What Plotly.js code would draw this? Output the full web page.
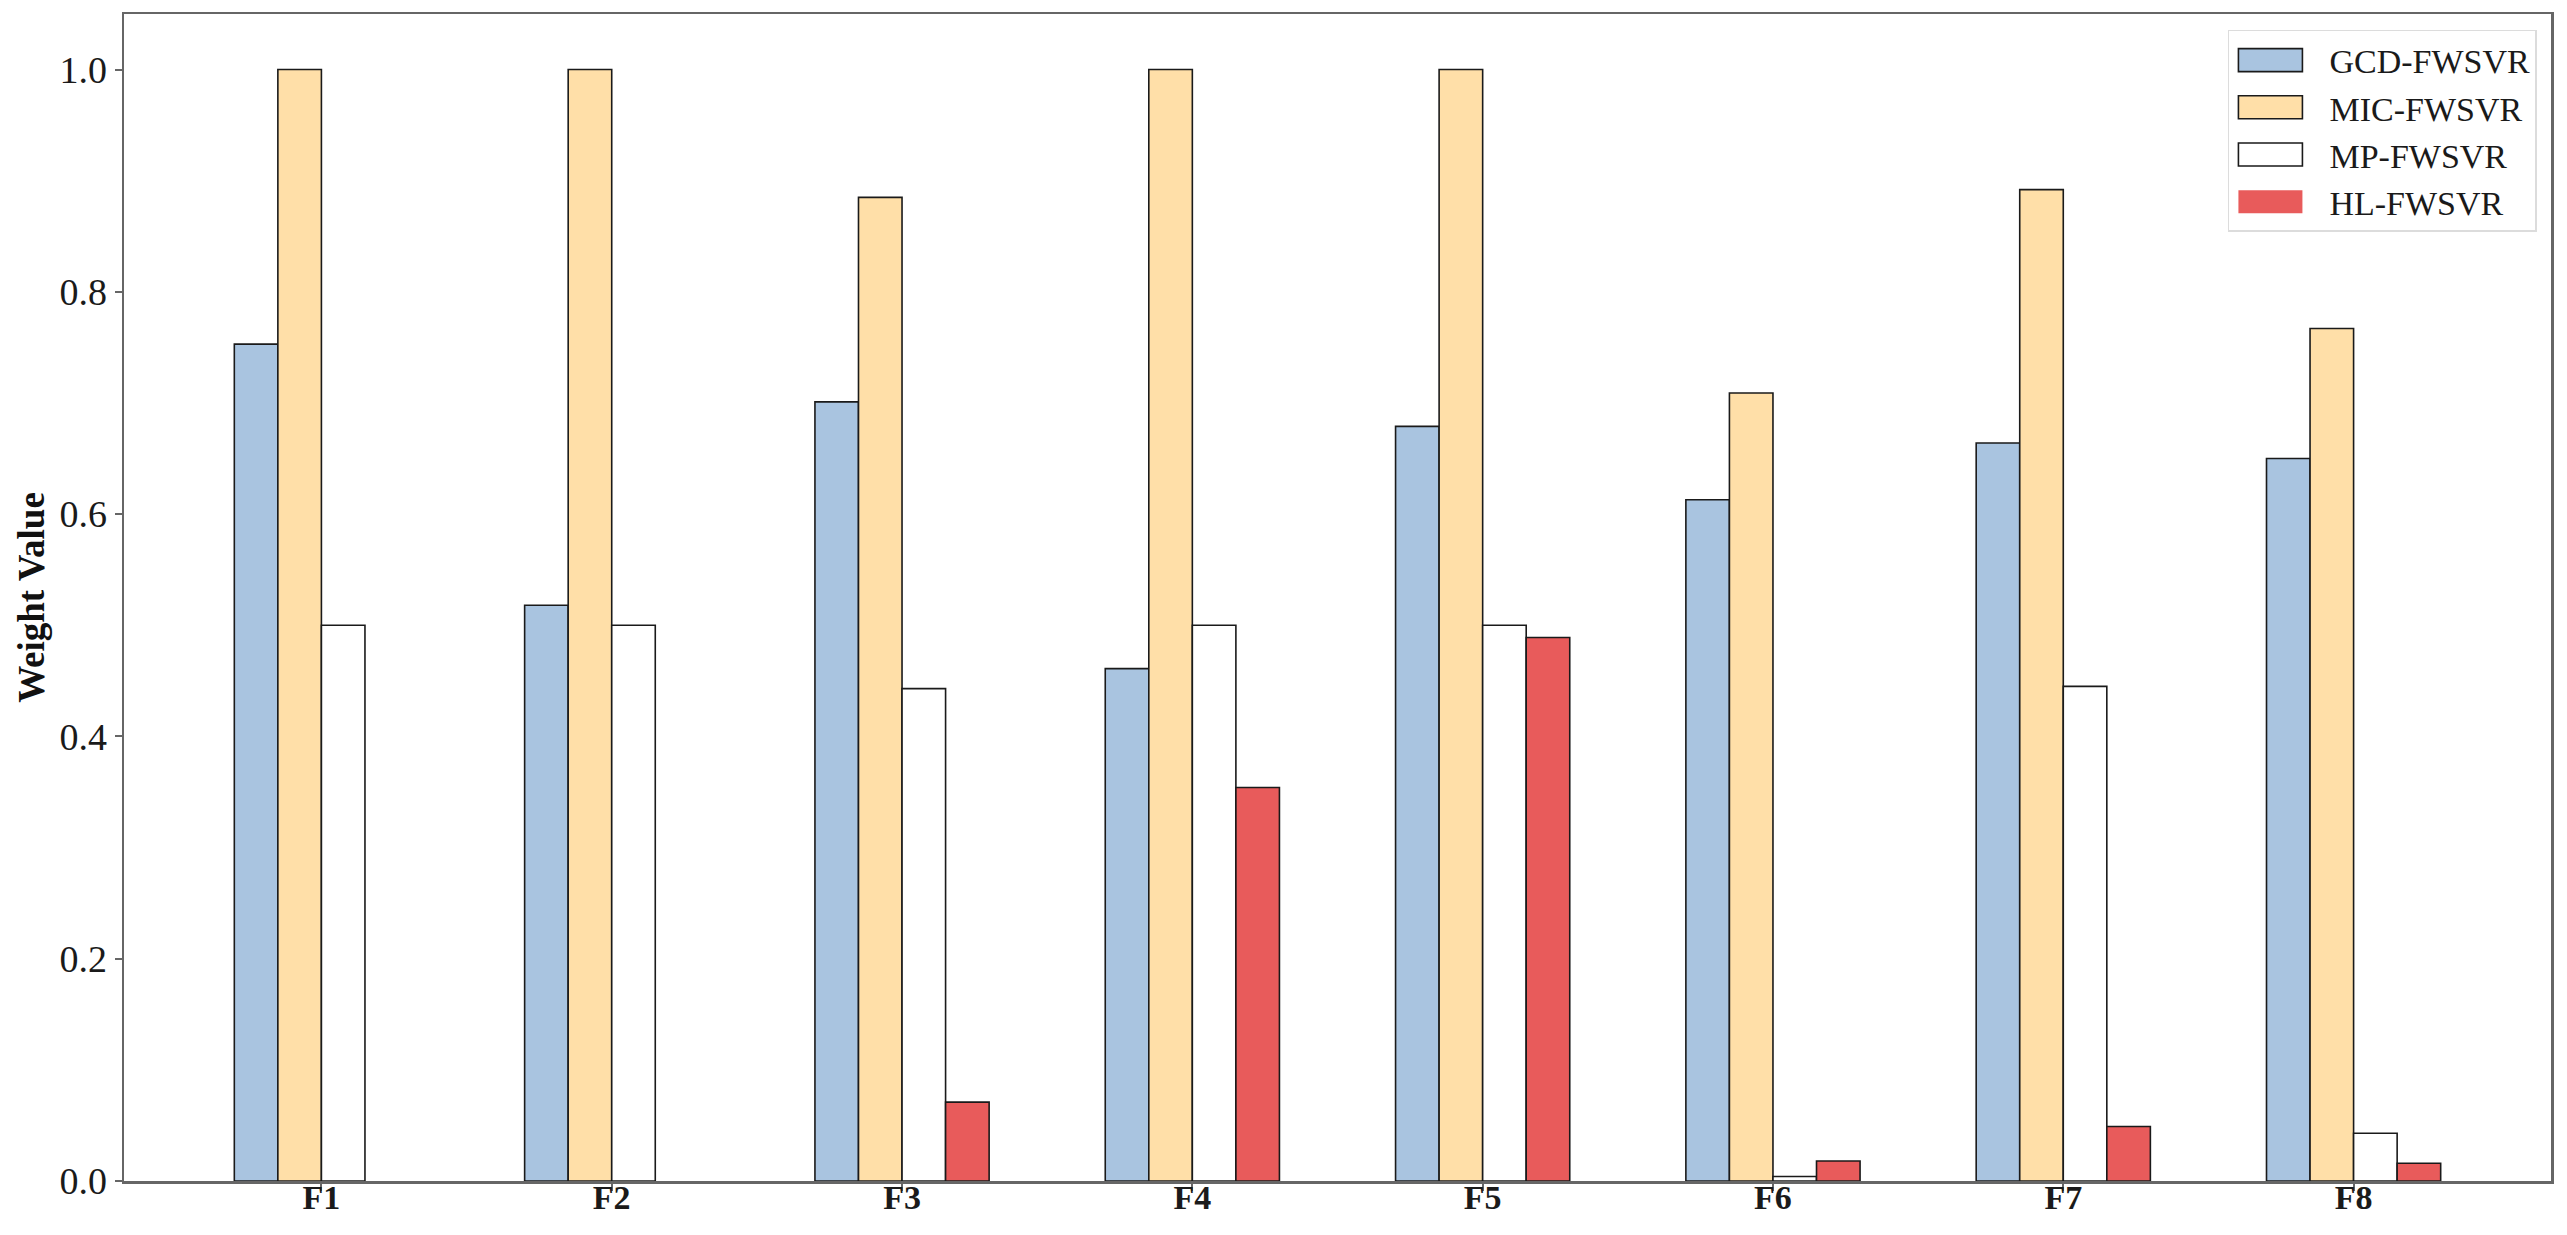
<!DOCTYPE html>
<html>
<head>
<meta charset="utf-8">
<script src="https://cdn.plot.ly/plotly-3.0.1.min.js"></script>
<style>html,body{margin:0;padding:0;background:#fff;}#chart{width:2567px;height:1235px;}</style>
</head>
<body>
<div id="chart"></div>
<script>
const categories = ['F1', 'F2', 'F3', 'F4', 'F5', 'F6', 'F7', 'F8'];
const seriesNames = ['GCD-FWSVR', 'MIC-FWSVR', 'MP-FWSVR', 'HL-FWSVR'];
const gcdValues = [0.753, 0.518, 0.701, 0.461, 0.679, 0.613, 0.664, 0.650];
const micValues = [1.000, 1.000, 0.885, 1.000, 1.000, 0.709, 0.892, 0.767];
const mpValues  = [0.500, 0.500, 0.443, 0.500, 0.500, 0.004, 0.445, 0.043];
const hlValues  = [0.000, 0.000, 0.071, 0.354, 0.489, 0.018, 0.049, 0.016];
const yTickValues = [0.0, 0.2, 0.4, 0.6, 0.8, 1.0];

const fills = ['#A9C4E0', '#FFDFA8', '#FFFFFF', '#E85B5B'];
const allValues = [gcdValues, micValues, mpValues, hlValues];
const serif = 'Liberation Serif, Times New Roman, serif';

const traces = allValues.map((vals, i) => ({
  type: 'bar',
  name: seriesNames[i],
  x: categories,
  y: vals,
  marker: {color: fills[i], line: {color: '#1a1a1a', width: vals.map(v => v === 0 ? 0 : 1.6)}},
  hoverinfo: 'x+y+name'
}));

const axisLine = '#666666';
const layout = {
  width: 2567,
  height: 1235,
  margin: {l: 124, r: 16, t: 14, b: 54, pad: 0},
  paper_bgcolor: '#ffffff',
  plot_bgcolor: '#ffffff',
  barmode: 'group',
  bargap: 0.4,
  bargroupgap: 0,
  showlegend: true,
  legend: {
    x: 0.9942, y: 0.9863, xanchor: 'right', yanchor: 'top',
    bgcolor: '#ffffff', bordercolor: '#dcdcdc', borderwidth: 1.5,
    font: {family: serif, size: 34, color: '#1a1a1a'},
    itemwidth: 90, tracegroupgap: 0, traceorder: 'normal'
  },
  xaxis: {
    type: 'category',
    range: [-0.68, 7.68],
    showgrid: false, zeroline: false,
    showline: true, mirror: true, linecolor: axisLine, linewidth: 2.5,
    ticks: 'outside', ticklen: 7, tickwidth: 2, tickcolor: axisLine,
    ticklabelstandoff: -22,
    tickfont: {family: serif, size: 34, color: '#1a1a1a', weight: 'bold'}
  },
  yaxis: {
    range: [0, 1.05],
    tickvals: yTickValues,
    tickformat: '.1f',
    showgrid: false, zeroline: false,
    showline: true, mirror: true, linecolor: axisLine, linewidth: 2.5,
    ticks: 'outside', ticklen: 7, tickwidth: 2, tickcolor: axisLine,
    tickfont: {family: serif, size: 38, color: '#1a1a1a'},
    title: {text: 'Weight Value', standoff: 4,
            font: {family: serif, size: 37, color: '#111111', weight: 'bold'}}
  }
};

function widenLegendPatches() {
  const items = document.querySelectorAll('#chart g.legend g.traces');
  items.forEach(item => {
    const path = item.querySelector('g.legendpoints path');
    const text = item.querySelector('text.legendtext');
    if (!path || !text || path.dataset.widened) return;
    const pb = path.getBoundingClientRect();
    const tb = text.getBoundingClientRect();
    const curCenter = pb.left + pb.width / 2;
    const wantCenter = tb.left - 27 - 32;
    const dx = wantCenter - curCenter;
    path.setAttribute('d', 'M' + (dx + 32) + ',11.5H' + (dx - 32) + 'V-11.5H' + (dx + 32) + 'Z');
    path.dataset.widened = '1';
  });
}

Plotly.newPlot('chart', traces, layout, {displayModeBar: false, staticPlot: true}).then(gd => {
  widenLegendPatches();
  gd.on('plotly_afterplot', widenLegendPatches);
  setTimeout(widenLegendPatches, 50);
  setTimeout(widenLegendPatches, 300);
});
</script>
</body>
</html>
